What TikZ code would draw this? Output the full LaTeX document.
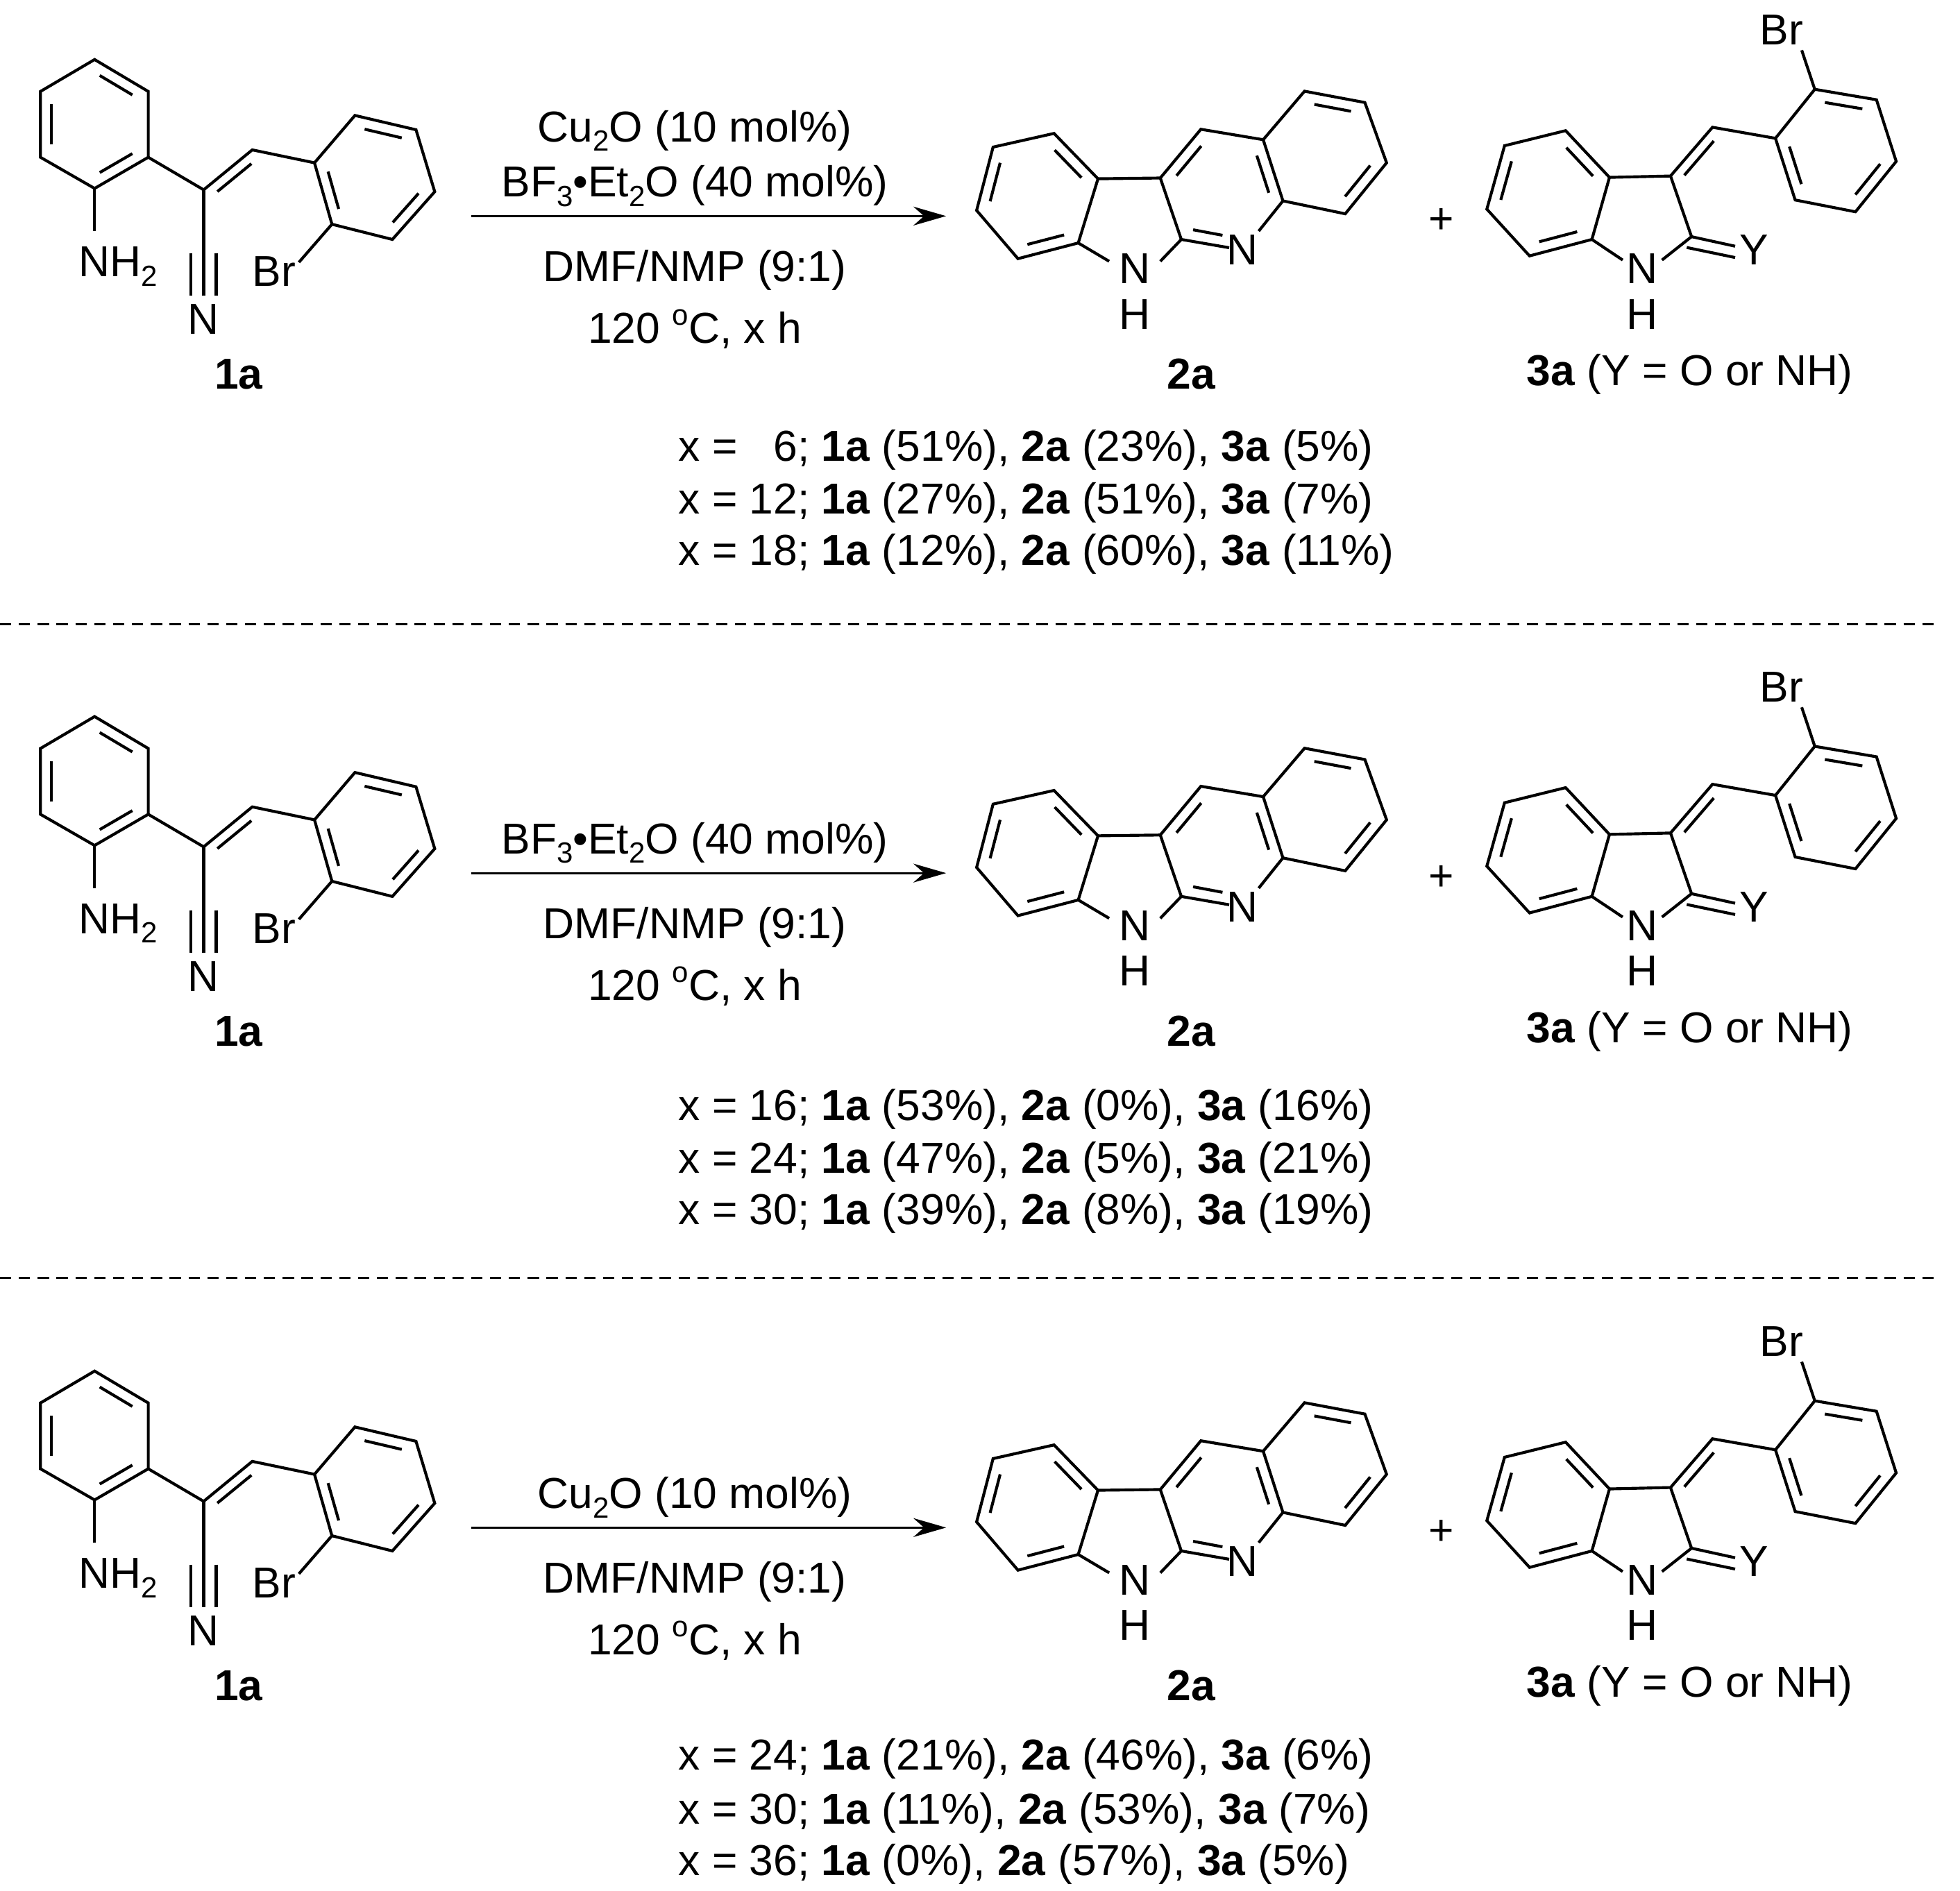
\documentclass[tikz,border=0pt]{standalone}
\usepackage{fontspec}
\setmainfont{Liberation Sans}
\usetikzlibrary{calc,arrows.meta}
\newcommand\fs{\fontsize{98}{118}\selectfont}
\newcommand\lo[1]{\raisebox{-0.22em}{\fontsize{66}{70}\selectfont #1}}
\newcommand\hi[1]{\raisebox{0.42em}{\fontsize{66}{70}\selectfont #1}}
\newcommand\ib[3]{\path ($#1!.2!#3$) coordinate (ibA) ($#2!.2!#3$) coordinate (ibB); \draw[bond] ($(ibA)!.12!(ibB)$) -- ($(ibB)!.12!(ibA)$);}
\tikzset{bond/.style={line width=2.3mm,line cap=butt,line join=miter},
  lbl/.style={font=\fs,inner sep=0pt},
  dash line/.style={line width=1.6mm,dash pattern=on 9mm off 6mm}}
\newcommand\scheme[1]{%
 % ---- 1a
 \draw[bond] (75.3,47.4)--(118,72.8)--(118,125.2)--(75.3,150)--(32.2,125.2)--(32.2,72.8)--cycle;
 \ib{(75.3,47.4)}{(118,72.8)}{(75.2,98.7)}
 \ib{(32.2,72.8)}{(32.2,125.2)}{(75.2,98.7)}
 \ib{(118,125.2)}{(75.3,150)}{(75.2,98.7)}
 \draw[bond] (75.3,150)--(75.3,184);
 \node[lbl] (nh#1) at (94,212) {NH\lo{2}};
 \draw[bond] (118,125.2)--(162.1,151.1)--(200.8,119.3)--(250.3,129.6);
 \draw[bond] (173,152.5)--(200.1,130.3);
 \draw[bond] (162.1,151.1)--(162.1,235.5);
 \draw[bond] (152.1,201.5)--(152.1,235.5) (172.1,201.5)--(172.1,235.5);
 \node[lbl] (cn#1) at (162.1,254) {N};
 \draw[bond] (250.3,129.6)--(282.5,91.9)--(331.1,103.3)--(346,152.6)--(312.3,190.6)--(264.2,178.5)--cycle;
 \ib{(282.5,91.9)}{(331.1,103.3)}{(297.7,141.1)}
 \ib{(346,152.6)}{(312.3,190.6)}{(297.7,141.1)}
 \ib{(264.2,178.5)}{(250.3,129.6)}{(297.7,141.1)}
 \draw[bond] (264.2,178.5)--(237.9,208.8);
 \node[lbl] (br1a#1) at (218,216) {Br};
 \node[lbl,font=\fs\bfseries] (l1a#1) at (190,298) {1a};
 % ---- 2a
 \draw[bond] (838.9,106.2)--(790.4,117.1)--(777.3,167.5)--(810.2,205.9)--(858.2,193.4)--(873.9,142.3)--cycle;
 \ib{(873.9,142.3)}{(838.9,106.2)}{(824.8,155.4)}
 \ib{(790.4,117.1)}{(777.3,167.5)}{(824.8,155.4)}
 \ib{(810.2,205.9)}{(858.2,193.4)}{(824.8,155.4)}
 \draw[bond] (873.9,142.3)--(923.5,141.7)--(955.8,102.9)--(1005.4,111.2)--(1021.1,159.9)--(1001.8,184);
 \draw[bond] (923.5,141.7)--(940.2,190.6)--(978.3,197.2);
 \draw[bond] (949.6,182.9)--(973,187.3);
 \ib{(923.5,141.7)}{(955.8,102.9)}{(972.5,151.1)}
 \ib{(1005.4,111.2)}{(1021.1,159.9)}{(972.5,151.1)}
 \draw[bond] (940.2,190.6)--(923.5,208);
 \draw[bond] (858.2,193.4)--(882.8,208);
 \node[lbl] (n2a#1) at (989,199) {N};
 \node[lbl] (nh2a#1) at (903,214) {N};
 \node[lbl] (h2a#1) at (903,250) {H};
 \draw[bond] (1005.4,111.2)--(1038.3,72.6)--(1086.3,81.6)--(1103.6,129.6)--(1070.7,170.2)--(1021.1,159.9);
 \ib{(1038.3,72.6)}{(1086.3,81.6)}{(1054.2,120.85)}
 \ib{(1103.6,129.6)}{(1070.7,170.2)}{(1054.2,120.85)}
 \node[lbl,font=\fs\bfseries] (l2a#1) at (948,298) {2a};
 \node[lbl] (plus#1) at (1147,176) {+};
 % ---- 3a
 \draw[bond] (1246.1,104)--(1197.5,116)--(1183.4,166.5)--(1217.4,203.7)--(1267,190.6)--(1281,141.2)--cycle;
 \ib{(1281,141.2)}{(1246.1,104)}{(1232.1,153.7)}
 \ib{(1197.5,116)}{(1183.4,166.5)}{(1232.1,153.7)}
 \ib{(1217.4,203.7)}{(1267,190.6)}{(1232.1,153.7)}
 \draw[bond] (1281,141.2)--(1329.6,140.1)--(1346.3,188.4)--(1322.8,207);
 \draw[bond] (1267,190.6)--(1291.5,207);
 \draw[bond] (1346.3,188.4)--(1381,196) (1342.5,197)--(1381,205);
 \node[lbl] (y3a#1) at (1396,199) {Y};
 \node[lbl] (nh3a#1) at (1307,214) {N};
 \node[lbl] (h3a#1) at (1307,250) {H};
 \draw[bond] (1329.6,140.1)--(1363,101.3)--(1413.1,110.1);
 \draw[bond] (1340.6,139.5)--(1364,112.3);
 \draw[bond] (1413.1,110.1)--(1444.4,71.1)--(1493.5,79.4)--(1509.2,128.5)--(1476.8,168.6)--(1428.8,159.2)--cycle;
 \ib{(1444.4,71.1)}{(1493.5,79.4)}{(1461,119.5)}
 \ib{(1509.2,128.5)}{(1476.8,168.6)}{(1461,119.5)}
 \ib{(1428.8,159.2)}{(1413.1,110.1)}{(1461,119.5)}
 \draw[bond] (1444.4,71.1)--(1434,40);
 \node[lbl] (br3a#1) at (1418,24) {Br};
 \node[lbl] (l3a#1) at (1345,298) {\textbf{3a} (Y = O or NH)};
 % ---- arrow
 \coordinate (as#1) at (375,172);
 \coordinate (ae#1) at (753,172);
 \draw[line width=1.8mm,-{Stealth[length=26mm,width=15mm]}] (as#1)--(ae#1);
 \node[lbl] (dmf#1) at (553,215) {DMF/NMP (9:1)};
 \node[lbl] (temp#1) at (553,262) {120 \hi{o}C, x h};
}
\begin{document}
\begin{tikzpicture}[x=1mm,y=-1mm]
\useasboundingbox (0,0) rectangle (1560,1505);
\scheme{A}
\node[lbl] (cuA) at (553,104) {Cu\lo{2}O (10 mol\%)};
\node[lbl] (bfA) at (553,148) {BF\lo{3}•Et\lo{2}O (40 mol\%)};
\node[lbl,anchor=west] (rA1) at (540,358) {x = \phantom{1}6; \textbf{1a} (51\%), \textbf{2a} (23\%), \textbf{3a} (5\%)};
\node[lbl,anchor=west] (rA2) at (540,400) {x = 12; \textbf{1a} (27\%), \textbf{2a} (51\%), \textbf{3a} (7\%)};
\node[lbl,anchor=west] (rA3) at (540,441) {x = 18; \textbf{1a} (12\%), \textbf{2a} (60\%), \textbf{3a} (11\%)};
\coordinate (d1s) at (0,497); \coordinate (d1e) at (1542,497);
\draw[dash line] (d1s)--(d1e);
\begin{scope}[yshift=-523mm]
\scheme{B}
\node[lbl] (bfB) at (553,148) {BF\lo{3}•Et\lo{2}O (40 mol\%)};
\end{scope}
\node[lbl,anchor=west] (rB1) at (540,883) {x = 16; \textbf{1a} (53\%), \textbf{2a} (0\%), \textbf{3a} (16\%)};
\node[lbl,anchor=west] (rB2) at (540,925) {x = 24; \textbf{1a} (47\%), \textbf{2a} (5\%), \textbf{3a} (21\%)};
\node[lbl,anchor=west] (rB3) at (540,966) {x = 30; \textbf{1a} (39\%), \textbf{2a} (8\%), \textbf{3a} (19\%)};
\coordinate (d2s) at (0,1017); \coordinate (d2e) at (1542,1017);
\draw[dash line] (d2s)--(d2e);
\begin{scope}[yshift=-1044mm]
\scheme{C}
\node[lbl] (cuC) at (553,148) {Cu\lo{2}O (10 mol\%)};
\end{scope}
\node[lbl,anchor=west] (rC1) at (540,1400) {x = 24; \textbf{1a} (21\%), \textbf{2a} (46\%), \textbf{3a} (6\%)};
\node[lbl,anchor=west] (rC2) at (540,1443) {x = 30; \textbf{1a} (11\%), \textbf{2a} (53\%), \textbf{3a} (7\%)};
\node[lbl,anchor=west] (rC3) at (540,1484) {x = 36; \textbf{1a} (0\%), \textbf{2a} (57\%), \textbf{3a} (5\%)};
\end{tikzpicture}
\end{document}
